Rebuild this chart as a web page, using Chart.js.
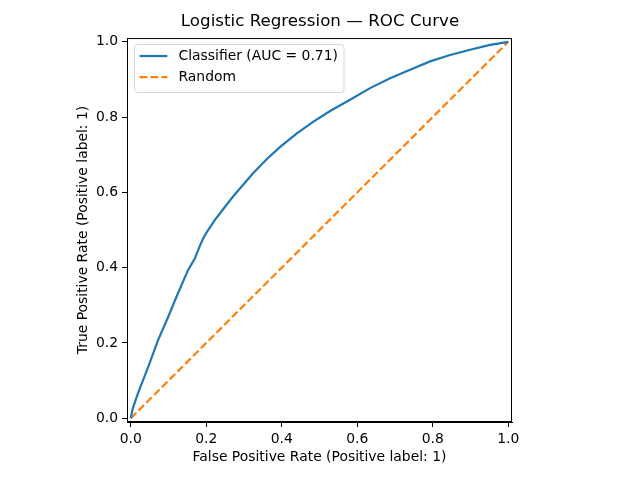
<!DOCTYPE html>
<html>
<head>
<meta charset="utf-8">
<script src="https://cdn.jsdelivr.net/npm/chart.js@4/dist/chart.umd.min.js"></script>
<style>
  html, body { margin: 0; padding: 0; background: #fff; }
  #wrap { width: 640px; height: 480px; }
</style>
</head>
<body>
<div id="wrap"><canvas id="roc" width="640" height="480"></canvas></div>
<script>
// ROC curve points
const fpr = [0, 0.005, 0.019, 0.046, 0.072, 0.099, 0.125, 0.152, 0.170, 0.183, 0.192, 0.201, 0.223, 0.236, 0.271, 0.324, 0.360, 0.395, 0.440, 0.484, 0.528, 0.581, 0.634, 0.687, 0.740, 0.793, 0.846, 0.899, 0.952, 1.0]
const tpr = [0, 0.025, 0.066, 0.136, 0.207, 0.269, 0.332, 0.394, 0.425, 0.458, 0.478, 0.494, 0.527, 0.544, 0.589, 0.651, 0.688, 0.720, 0.757, 0.788, 0.816, 0.846, 0.877, 0.903, 0.926, 0.948, 0.965, 0.979, 0.992, 1.0]
const chanceX = [0, 1]
const chanceY = [0, 1]
const tickVals = [0, 0.2, 0.4, 0.6, 0.8, 1.0]
const seriesLabels = ['Classifier (AUC = 0.71)', 'Random']

const FONT = "'DejaVu Sans', sans-serif"
const BLUE = '#1f77b4'
const ORANGE = '#ff7f0e'

// cadre + légende façon matplotlib
const framePlugin = {
  id: 'frame',
  afterDraw(chart) {
    const { ctx, chartArea: a } = chart
    ctx.save()
    ctx.strokeStyle = '#000'
    ctx.lineWidth = 1
    ctx.strokeRect(a.left + 0.5, a.top + 0.5, a.right - a.left - 1, a.bottom - a.top - 1)

    // legend
    ctx.font = `13.9px ${FONT}`
    const pad = 5.6, handle = 27.8, gap = 11.1, rowH = 21
    const textW = Math.max(...chart.data.datasets.map(d => ctx.measureText(d.label).width))
    const bx = a.left + 7, by = a.top + 6
    const bw = pad * 2 + handle + gap + textW
    const bh = 48
    ctx.fillStyle = 'rgba(255,255,255,0.8)'
    ctx.strokeStyle = 'rgba(204,204,204,0.8)'
    ctx.beginPath()
    ctx.roundRect(bx + 0.5, by + 0.5, bw, bh, 3)
    ctx.fill()
    ctx.stroke()
    chart.data.datasets.forEach((d, i) => {
      const cy = by + 12 + i * rowH
      ctx.strokeStyle = d.borderColor
      ctx.lineWidth = d.borderWidth
      ctx.setLineDash(d.borderDash || [])
      ctx.beginPath()
      ctx.moveTo(bx + pad, cy)
      ctx.lineTo(bx + pad + handle, cy)
      ctx.stroke()
      ctx.setLineDash([])
      ctx.fillStyle = '#000'
      ctx.textBaseline = 'middle'
      ctx.textAlign = 'left'
      ctx.fillText(d.label, bx + pad + handle + gap, cy)
    })
    ctx.restore()
  }
}

const axisCommon = {
  type: 'linear',
  min: -0.01,
  max: 1.01,
  afterBuildTicks: (scale) => { scale.ticks = tickVals.map(v => ({ value: v })) },
  grid: { drawOnChartArea: false, drawTicks: true, tickLength: 5, tickColor: '#000', lineWidth: 1 },
  border: { display: true, color: '#000', width: 1 },
  ticks: {
    color: '#000',
    padding: 4,
    font: { family: FONT, size: 13.9 },
    callback: (v) => v.toFixed(1),
    maxRotation: 0,
    autoSkip: false
  }
}

new Chart(document.getElementById('roc'), {
  type: 'line',
  data: {
    datasets: [
      {
        label: seriesLabels[0],
        data: fpr.map((x, i) => ({ x: x, y: tpr[i] })),
        borderColor: BLUE,
        borderWidth: 2.2,
        pointRadius: 0,
        tension: 0,
        fill: false
      },
      {
        label: seriesLabels[1],
        data: chanceX.map((x, i) => ({ x: x, y: chanceY[i] })),
        borderColor: ORANGE,
        borderWidth: 2.2,
        borderDash: [7.7, 3.3],
        pointRadius: 0,
        tension: 0,
        fill: false
      }
    ]
  },
  options: {
    responsive: false,
    animation: false,
    devicePixelRatio: 1,
    layout: { padding: 0 },
    plugins: {
      legend: { display: false },
      tooltip: { enabled: false },
      title: {
        display: true,
        text: 'Logistic Regression — ROC Curve',
        color: '#000',
        font: { family: FONT, size: 16.7, weight: 'normal', lineHeight: 1.2 },
        padding: { top: 12, bottom: 6 }
      }
    },
    scales: {
      x: {
        ...axisCommon,
        position: 'bottom',
        afterFit: (scale) => { scale.height = 58 },
        title: {
          display: true,
          text: 'False Positive Rate (Positive label: 1)',
          color: '#000',
          font: { family: FONT, size: 13.9 },
          padding: { top: 14, bottom: 14 }
        }
      },
      y: {
        ...axisCommon,
        position: 'left',
        afterFit: (scale) => { scale.width = 127 },
        title: {
          display: true,
          text: 'True Positive Rate (Positive label: 1)',
          color: '#000',
          font: { family: FONT, size: 13.9 },
          padding: { top: 75, bottom: 75 }
        }
      },
      // empty right axis that only reserves the margin right of the plot
      pad: {
        type: 'linear',
        position: 'right',
        display: true,
        grid: { display: false },
        border: { display: false },
        ticks: { display: false },
        afterFit: (scale) => { scale.width = 128 }
      }
    }
  },
  plugins: [framePlugin]
})
</script>
</body>
</html>
